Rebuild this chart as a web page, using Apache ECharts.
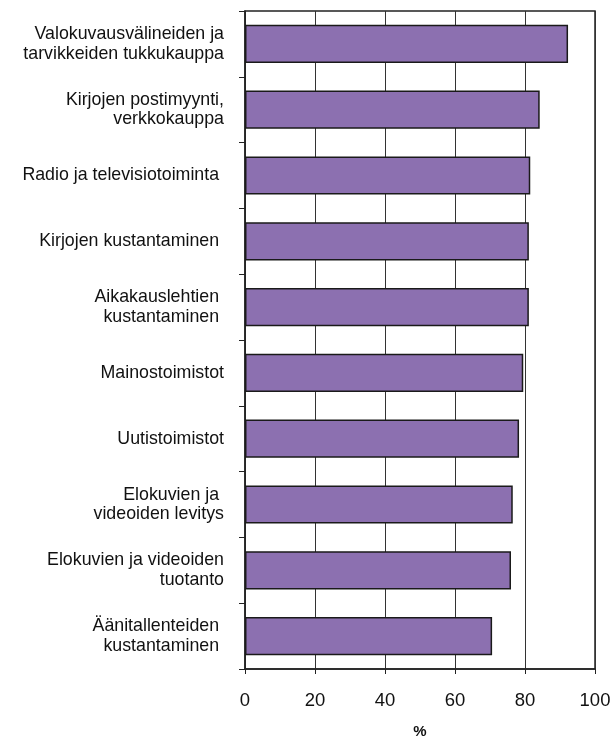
<!DOCTYPE html>
<html>
<head>
<meta charset="utf-8">
<script src="https://cdn.jsdelivr.net/npm/echarts@6/dist/echarts.min.js"></script>
<style>
  html, body { margin: 0; padding: 0; background: #fff; }
  #chart { width: 612px; height: 738px; }
</style>
</head>
<body>
<div id="chart"></div>
<script>
const categories = [
  'Valokuvausvälineiden ja\ntarvikkeiden tukkukauppa',
  'Kirjojen postimyynti,\nverkkokauppa',
  'Radio ja televisiotoiminta ',
  'Kirjojen kustantaminen ',
  'Aikakauslehtien \nkustantaminen ',
  'Mainostoimistot',
  'Uutistoimistot',
  'Elokuvien ja \nvideoiden levitys',
  'Elokuvien ja videoiden\ntuotanto',
  'Äänitallenteiden \nkustantaminen '
]
const values = [92.3, 84.2, 81.5, 81.1, 81.1, 79.5, 78.3, 76.5, 76.0, 70.6]
const xTicks = { min: 0, max: 100, interval: 20 }

const chart = echarts.init(document.getElementById('chart'))

chart.setOption({
  animation: false,
  textStyle: { fontFamily: '"Liberation Sans", Arial, sans-serif' },
  grid: {
    left: 245,
    right: 17,
    top: 11,
    bottom: 69,
    outerBoundsMode: 'none',
    containLabel: false,
    show: true,
    borderColor: '#222',
    borderWidth: 1.5
  },
  xAxis: {
    type: 'value',
    min: xTicks.min,
    max: xTicks.max,
    interval: xTicks.interval,
    name: '%',
    nameLocation: 'middle',
    nameGap: 55,
    nameTextStyle: { color: '#111', fontSize: 15, fontWeight: 'bold' },
    axisLine: { show: true, lineStyle: { color: '#222', width: 1.5 } },
    axisTick: { show: true, length: 5, lineStyle: { color: '#222' } },
    axisLabel: { color: '#111', fontSize: 18.5, margin: 22 },
    splitLine: { show: true, lineStyle: { color: '#333', width: 1 } }
  },
  yAxis: {
    type: 'category',
    inverse: true,
    data: categories,
    axisLine: { show: true, lineStyle: { color: '#222', width: 1.5 } },
    axisTick: { show: true, length: 6, lineStyle: { color: '#222' } },
    axisLabel: {
      color: '#111',
      fontSize: 17.8,
      lineHeight: 19.5,
      margin: 21,
      align: 'right'
    }
  },
  series: [
    {
      type: 'bar',
      data: values,
      barCategoryGap: '42%',
      itemStyle: {
        color: '#8c70b0',
        borderColor: '#1a1a1a',
        borderWidth: 1.5
      }
    }
  ]
})
</script>
</body>
</html>
